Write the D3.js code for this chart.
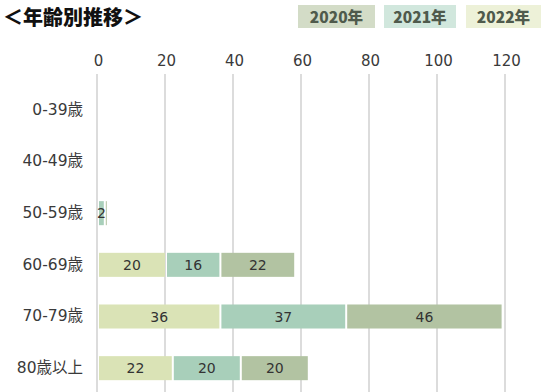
<!DOCTYPE html>
<html>
<head>
<meta charset="utf-8">
<script src="https://cdn.jsdelivr.net/npm/d3@7/dist/d3.min.js"></script>
<style>
  html, body { margin: 0; padding: 0; background: #fff; }
  svg { display: block; }
</style>
</head>
<body>
<svg id="chart" width="550" height="392"></svg>
<script>
// Age groups (rows, top to bottom)
const ageGroups = ["0-39歳", "40-49歳", "50-59歳", "60-69歳", "70-79歳", "80歳以上"];
// Stack order left to right: 2022, 2021, 2020 (null = no entry)
const years = ["2022年", "2021年", "2020年"];
const values2022 = [null, null, null, 20, 36, 22];
const values2021 = [null, null, 2, 16, 37, 20];
const values2020 = [null, null, 0, 22, 46, 20];
const xTicks = [0, 20, 40, 60, 80, 100, 120];

// Legend order on screen
const legendYears = ["2020年", "2021年", "2022年"];

const barColors = { "2022年": "#dae3b6", "2021年": "#a8cfba", "2020年": "#b2c3a2" };
const legendBg = { "2020年": "#d3dcc7", "2021年": "#d1e7dd", "2022年": "#edf1d8" };
const seriesValues = { "2022年": values2022, "2021年": values2021, "2020年": values2020 };

const numFont = "'DejaVu Sans', Verdana, 'Noto Sans CJK JP', sans-serif";
const jpFont = "'DejaVu Sans', 'Noto Sans CJK JP', sans-serif";

const svg = d3.select("#chart");

const x = d3.scaleLinear().domain([0, 120]).range([98, 506]);
const y = d3.scaleBand().domain(ageGroups).range([84, 394]).paddingInner(0.535).paddingOuter(0.2675);

// Title
svg.append("text")
  .attr("x", 3).attr("y", 25)
  .attr("font-family", "'Noto Sans CJK JP', sans-serif")
  .attr("font-weight", 900)
  .attr("font-size", 20)
  .attr("fill", "#111")
  .text("＜年齢別推移＞");

// Legend boxes
const legendX = [298, 384, 466];
const legendW = [77, 72, 75];
legendYears.forEach((yr, i) => {
  const g = svg.append("g").attr("transform", `translate(${legendX[i]},5)`);
  g.append("rect").attr("width", legendW[i]).attr("height", 23).attr("fill", legendBg[yr]);
  g.append("text")
    .attr("x", legendW[i] / 2).attr("y", 17.5)
    .attr("text-anchor", "middle")
    .attr("font-family", "'Noto Sans CJK JP', sans-serif")
    .attr("font-weight", 900)
    .attr("font-size", 15.5)
    .attr("fill", "#4f5a4c")
    .text(yr);
});

// Vertical gridlines
svg.append("g")
  .selectAll("line")
  .data(xTicks)
  .join("line")
  .attr("x1", d => x(d) - 1).attr("x2", d => x(d) - 1)
  .attr("y1", 74).attr("y2", 392)
  .attr("stroke", "#dcdcdc")
  .attr("stroke-width", 2);

// Top axis labels
const axis = svg.append("g")
  .attr("transform", "translate(0,66)")
  .call(d3.axisTop(x).tickValues(xTicks).tickSize(0).tickPadding(0).tickFormat(d3.format("d")));
axis.select(".domain").remove();
axis.selectAll("text")
  .attr("font-family", numFont)
  .attr("font-size", 15)
  .attr("fill", "#3a3a3a");

// Row labels
const yAxis = svg.append("g")
  .attr("transform", "translate(83,0)")
  .call(d3.axisLeft(y).tickSize(0).tickPadding(0));
yAxis.select(".domain").remove();
yAxis.selectAll("text")
  .attr("font-family", jpFont)
  .attr("font-size", 15.5)
  .attr("fill", "#3a3a3a");

// Stacked segments
const segments = [];
ageGroups.forEach((grp, i) => {
  let acc = 0;
  years.forEach(yr => {
    const v = seriesValues[yr][i];
    if (v === null) return;
    segments.push({ grp, yr, v, x0: acc, x1: acc + v });
    acc += v;
  });
});

const bars = svg.append("g");
bars.selectAll("rect")
  .data(segments)
  .join("rect")
  .attr("x", d => x(d.x0) + 1)
  .attr("y", d => y(d.grp))
  .attr("width", d => Math.max(1, x(d.x1) - x(d.x0) - 2))
  .attr("height", y.bandwidth())
  .attr("fill", d => barColors[d.yr]);

bars.selectAll("text")
  .data(segments.filter(d => d.v > 0))
  .join("text")
  .attr("x", d => (x(d.x0) + x(d.x1)) / 2)
  .attr("y", d => y(d.grp) + y.bandwidth() / 2)
  .attr("dy", "0.36em")
  .attr("text-anchor", "middle")
  .attr("font-family", numFont)
  .attr("font-size", 14)
  .attr("fill", "#333")
  .text(d => d.v);
</script>
</body>
</html>
